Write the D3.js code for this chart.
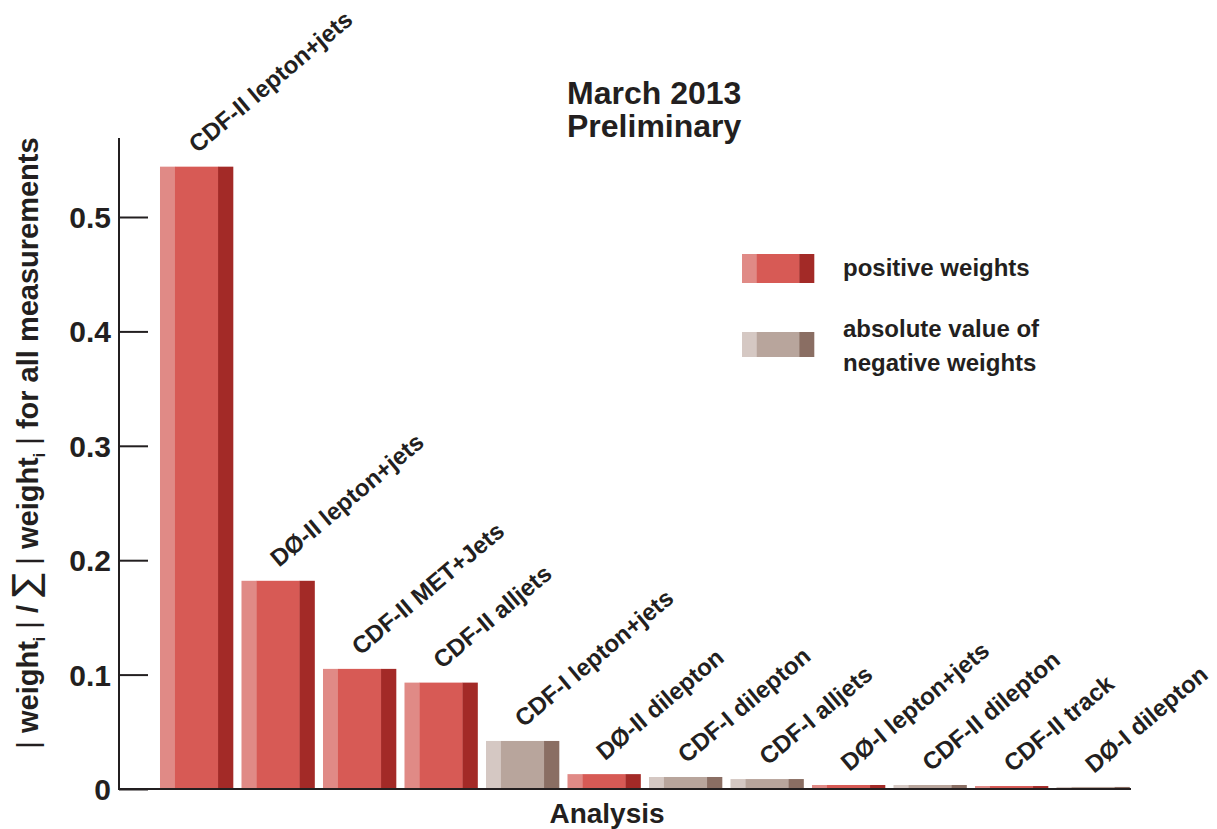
<!DOCTYPE html>
<html><head><meta charset="utf-8">
<script src="https://cdn.jsdelivr.net/npm/d3@7"></script>
<style>
html,body{margin:0;padding:0;background:#fff;}
svg text{font-family:"Liberation Sans",Arial,Helvetica,sans-serif;font-weight:bold;fill:#231f20;}
</style></head>
<body><svg id="c" width="1217" height="829"></svg>
<script>
const categories = ["CDF-II lepton+jets","DØ-II lepton+jets","CDF-II MET+Jets","CDF-II alljets","CDF-I lepton+jets","DØ-II dilepton","CDF-I dilepton","CDF-I alljets","DØ-I lepton+jets","CDF-II dilepton","CDF-II track","DØ-I dilepton"];
const weights = [0.544, 0.182, 0.105, 0.093, 0.042, 0.013, 0.0105, 0.0087, 0.0035, 0.0035, 0.0026, 0.0018];
const signs = ["pos","pos","pos","pos","neg","pos","neg","neg","pos","neg","pos","neg"];
const yTicks = [0, 0.1, 0.2, 0.3, 0.4, 0.5];
const tickLabels = ["0","0.1","0.2","0.3","0.4","0.5"];
const legendLabels = [["positive weights"],["absolute value of","negative weights"]];
const titleLines = ["March 2013","Preliminary"];

const palette = {pos:["#e08a86","#d75a55","#a32a27"], neg:["#d5c8c3","#b8a59c","#8a6e63"]};

const svg = d3.select("#c");
const x = d3.scaleBand().domain(categories).range([155.75,1133.75]).paddingInner(0.104).paddingOuter(0.052);
const y = d3.scaleLinear().domain([0,0.5]).range([789,217]);

const bw = x.bandwidth();
const segs = [[0,0.205],[0.205,0.795],[0.795,1]];
const data = categories.map((c,i)=>({c, v:weights[i], s:signs[i]}));
const g = svg.append("g");
data.forEach(d=>{
  segs.forEach((sg,k)=>{
    g.append("rect")
      .attr("x", x(d.c)+sg[0]*bw)
      .attr("width", (sg[1]-sg[0])*bw+0.3)
      .attr("y", y(d.v))
      .attr("height", y(0)-y(d.v))
      .attr("fill", palette[d.s][k]);
  });
});

data.forEach(d=>{
  const cx = x(d.c)+bw/2+1, cy = y(d.v)-13;
  svg.append("text").attr("transform",`translate(${cx},${cy}) rotate(-40)`)
    .attr("font-size",24).text(d.c);
});

const axisColor="#231f20";
svg.append("line").attr("x1",119).attr("x2",1131).attr("y1",y(0)).attr("y2",y(0)).attr("stroke",axisColor).attr("stroke-width",2);
const yAxis = d3.axisRight(y).tickValues(yTicks).tickSize(29).tickFormat(()=>"");
const ya = svg.append("g").attr("transform","translate(119,0)").call(yAxis);
ya.select(".domain").remove();
ya.selectAll(".tick line").attr("stroke",axisColor).attr("stroke-width",2);
svg.append("line").attr("x1",119).attr("x2",119).attr("y1",138).attr("y2",y(0)+1).attr("stroke",axisColor).attr("stroke-width",2);
yTicks.forEach((t,i)=>{
  svg.append("text").attr("x",111).attr("y",y(t)+11).attr("text-anchor","end").attr("font-size",30).text(tickLabels[i]);
});

svg.append("text").attr("x",607).attr("y",823).attr("text-anchor","middle").attr("font-size",28).text("Analysis");
const yt = svg.append("text").attr("transform","translate(38,443) rotate(-90)").attr("text-anchor","middle").attr("font-size",29);
yt.append("tspan").attr("font-weight","normal").text("| ");
yt.append("tspan").text("weight");
yt.append("tspan").attr("font-size",16).attr("dy",7).text("i");
yt.append("tspan").attr("dy",-7).attr("font-weight","normal").text(" |");
yt.append("tspan").text(" / ");
yt.append("tspan").attr("font-weight","normal").attr("font-family","DejaVu Sans").attr("font-size",36).text("∑");
yt.append("tspan").attr("font-weight","normal").text(" | ");
yt.append("tspan").text("weight");
yt.append("tspan").attr("font-size",16).attr("dy",7).text("i");
yt.append("tspan").attr("dy",-7).attr("font-weight","normal").text(" |");
yt.append("tspan").text(" for all measurements");

titleLines.forEach((t,i)=>{
  svg.append("text").attr("x",567).attr("y",104+i*33).attr("font-size",32).text(t);
});

const lg = [{s:"pos",y:254,h:29},{s:"neg",y:332,h:25}];
lg.forEach(L=>{
  segs.forEach((sg,k)=>{
    svg.append("rect").attr("x",742+sg[0]*72).attr("width",(sg[1]-sg[0])*72+0.3)
      .attr("y",L.y).attr("height",L.h).attr("fill",palette[L.s][k]);
  });
});
svg.append("text").attr("x",843).attr("y",276).attr("font-size",24).text(legendLabels[0][0]);
svg.append("text").attr("x",843).attr("y",337).attr("font-size",24).text(legendLabels[1][0]);
svg.append("text").attr("x",843).attr("y",371).attr("font-size",24).text(legendLabels[1][1]);
</script></body></html>
